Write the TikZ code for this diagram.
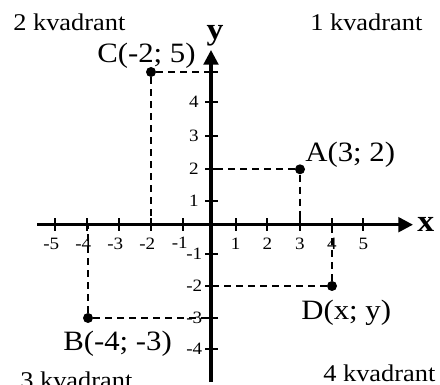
\documentclass[tikz,border=0pt]{standalone}
\usepackage{fontspec}
\usepackage{graphicx}
\setmainfont{Liberation Serif}
\usetikzlibrary{arrows.meta}
\newcommand{\widetxt}[1]{\scalebox{1.1}[1]{#1}}
\tikzset{
  axis/.style={line width=2.3pt,-{Triangle[length=11pt,width=11pt]}},
  tickmark/.style={line width=1.5pt},
  guide/.style={line width=1.5pt,dash pattern=on 5.25pt off 3.75pt},
  dot/.style={circle,fill=black,inner sep=0pt,minimum size=7.5pt},
  quad/.style={font=\fontsize{18}{20}\selectfont,inner sep=0pt,anchor=base west},
  ptlabel/.style={font=\fontsize{21}{23}\selectfont,inner sep=0pt,anchor=base west},
  ticklabel/.style={font=\fontsize{13}{14}\selectfont,inner sep=0pt},
  axlabel/.style={font=\fontsize{23}{25}\selectfont\bfseries,inner sep=0pt},
}
\begin{document}
\begin{tikzpicture}[x=0.75pt,y=-0.75pt]
\useasboundingbox (0,0) rectangle (440,385);
% axes
\coordinate (xs) at (37,224.7);
\coordinate (xe) at (413,224.7);
\coordinate (ys) at (211,382);
\coordinate (ye) at (211,50);
\draw[axis] (xs) -- (xe);
\draw[axis] (ys) -- (ye);
% x ticks
\foreach \p/\l in {55/-5,87/-4,119/-3,151/-2} {
  \draw[tickmark] (\p,218.5) -- (\p,231);
  \node[ticklabel,anchor=base east] at (\p+4.5,250) {\widetxt{\l}};
}
\draw[tickmark] (183,218.5) -- (183,231);
\node[ticklabel,anchor=base east] at (188,248) {\widetxt{-1}};
\foreach \p/\l in {235.7/1,267.3/2,300/3,332/4,363.3/5} {
  \draw[tickmark] (\p,218.5) -- (\p,231);
  \node[ticklabel,anchor=base] at (\p,250) {\widetxt{\l}};
}
% y ticks
\draw[tickmark] (205,72) -- (218,72);
\foreach \q/\l in {102/4,135.7/3,169.3/2,201/1} {
  \draw[tickmark] (205,\q) -- (218,\q);
  \node[ticklabel,anchor=base east] at (199,\q+5.5) {\widetxt{\l}};
}
\foreach \q/\l in {254/-1,286/-2,318/-3,349/-4} {
  \draw[tickmark] (205,\q) -- (218,\q);
  \node[ticklabel,anchor=base east] at (202.5,\q+5.5) {\widetxt{\l}};
}
% axis labels
\node[axlabel,anchor=base] (ylab) at (215,40) {\widetxt{y}};
\node[axlabel,anchor=base west] (xlab) at (417,232) {\widetxt{x}};
% points
\node[dot] (C) at (151,72) {};
\node[dot] (A) at (300,169.3) {};
\node[dot] (D) at (332,286) {};
\node[dot] (B) at (88,318) {};
\coordinate (Cy) at (211,72);
\coordinate (Cx) at (151,224.7);
\coordinate (Ay) at (211,169.3);
\coordinate (Ax) at (300,224.7);
\coordinate (Dy) at (211,286);
\coordinate (Dx) at (332,224.7);
\coordinate (By) at (211,318);
\coordinate (Bx) at (88,224.7);
\draw[guide] (C) -- (Cy);
\draw[guide] (C) -- (Cx);
\draw[guide] (A) -- (Ay);
\draw[guide] (A) -- (Ax);
\draw[guide] (D) -- (Dy);
\draw[guide] (D) -- (Dx);
\draw[guide] (B) -- (By);
\draw[guide] (B) -- (Bx);
% point labels
\node[ptlabel] (Cl) at (97,63) {\widetxt{C(-2; 5)}};
\node[ptlabel] (Al) at (305,162) {\widetxt{A(3; 2)}};
\node[ptlabel] (Dl) at (301,320) {\widetxt{D(x; y)}};
\node[ptlabel] (Bl) at (63,350) {\widetxt{B(-4; -3)}};
% quadrants
\node[quad] (q2) at (13,30.5) {\widetxt{2 kvadrant}};
\node[quad] (q1) at (310,30.5) {\widetxt{1 kvadrant}};
\node[quad] (q3) at (20,388) {\widetxt{3 kvadrant}};
\node[quad] (q4) at (323,381.5) {\widetxt{4 kvadrant}};
\end{tikzpicture}
\end{document}
